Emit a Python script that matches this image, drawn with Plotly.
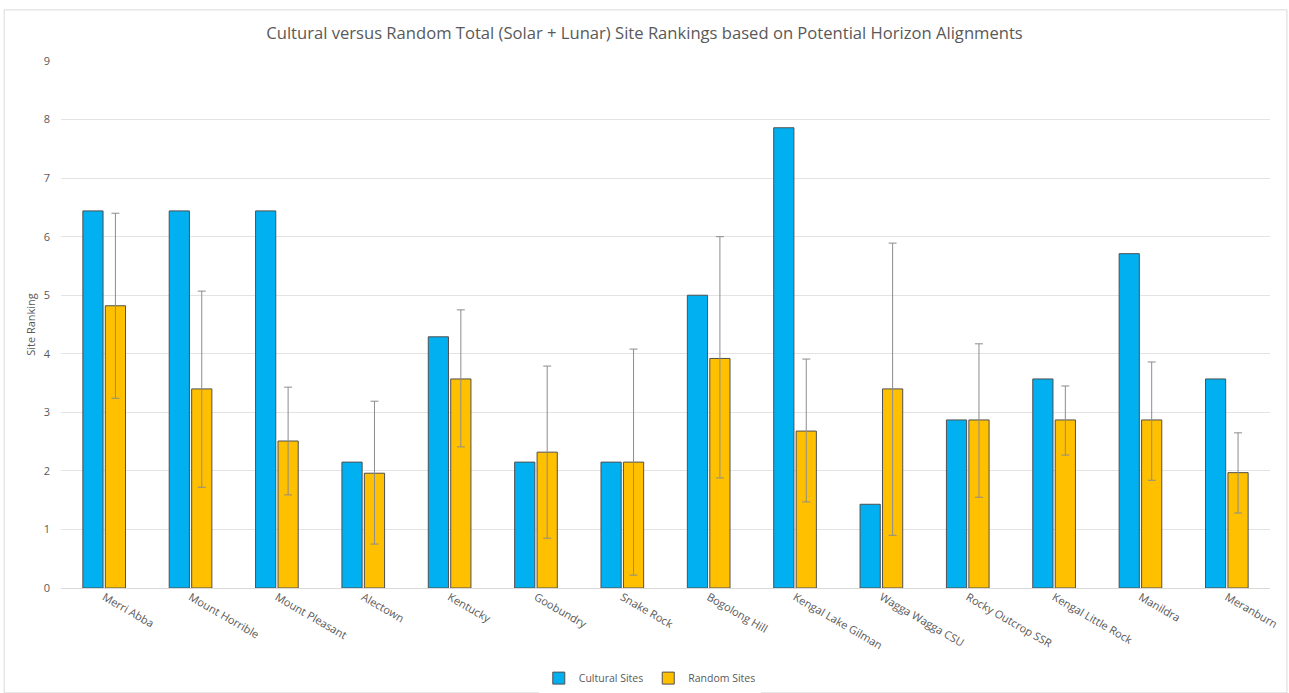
import plotly.graph_objects as go

sites = ["Merri Abba", "Mount Horrible", "Mount Pleasant", "Alectown", "Kentucky",
         "Goobundry", "Snake Rock", "Bogolong Hill", "Kengal Lake Gilman", "Wagga Wagga CSU",
         "Rocky Outcrop SSR", "Kengal Little Rock", "Manildra", "Meranburn"]
cultural = [6.44, 6.44, 6.44, 2.15, 4.29, 2.15, 2.15, 5.0, 7.86, 1.43, 2.87, 3.57, 5.71, 3.57]
random_mean = [4.82, 3.40, 2.51, 1.96, 3.57, 2.32, 2.15, 3.92, 2.68, 3.40, 2.87, 2.87, 2.87, 1.97]
random_upper = [6.40, 5.07, 3.43, 3.19, 4.75, 3.79, 4.08, 6.00, 3.91, 5.89, 4.17, 3.45, 3.86, 2.65]
random_lower = [3.24, 1.72, 1.59, 0.75, 2.41, 0.85, 0.22, 1.88, 1.47, 0.90, 1.55, 2.27, 1.84, 1.28]
y_ticks = [0, 1, 2, 3, 4, 5, 6, 7, 8, 9]

err_plus = [u - m for u, m in zip(random_upper, random_mean)]
err_minus = [m - l for m, l in zip(random_mean, random_lower)]

FONT = "Open Sans"
GREY = "#595959"

fig = go.Figure()
fig.add_trace(go.Bar(
    name="Cultural Sites", x=sites, y=cultural,
    marker=dict(color="#00B0F0", line=dict(color="#505050", width=1)),
))
fig.add_trace(go.Bar(
    name="Random Sites", x=sites, y=random_mean,
    marker=dict(color="#FFC000", line=dict(color="#505050", width=1)),
    error_y=dict(type="data", symmetric=False, array=err_plus, arrayminus=err_minus,
                 color="#8c8c8c", thickness=1, width=4),
))

fig.update_layout(
    width=1289, height=693,
    paper_bgcolor="white", plot_bgcolor="white",
    margin=dict(l=61, r=19, t=61, b=105, autoexpand=False),
    barmode="group", bargap=0.48, bargroupgap=0.1,
    font=dict(family=FONT, color=GREY, size=11),
    title=dict(text="Cultural versus Random Total (Solar + Lunar) Site Rankings based on Potential Horizon Alignments",
               x=0.5, xanchor="center", y=0.952, yanchor="middle",
               font=dict(family=FONT, size=16.6, color=GREY)),
    legend=dict(orientation="h", x=0.487, xanchor="center", y=-0.171, yanchor="middle",
                font=dict(family=FONT, size=10.5, color=GREY), itemwidth=30, tracegroupgap=0),
    showlegend=True,
)
fig.update_yaxes(range=[0, 9], tickvals=y_ticks, showgrid=True, gridcolor="#e3e3e3", gridwidth=1,
                 zeroline=True, zerolinecolor="#d9d9d9", zerolinewidth=1,
                 showline=False, ticks="", ticklabelstandoff=10, automargin=False,
                 tickfont=dict(family=FONT, size=11, color=GREY),
                 title=dict(text="Site Ranking", font=dict(family=FONT, size=11, color=GREY), standoff=5))
fig.update_xaxes(showgrid=False, showline=False, ticks="", tickangle=30, automargin=False,
                 tickfont=dict(family=FONT, size=11, color=GREY))

fig.add_shape(type="rect", xref="paper", yref="paper",
              x0=-0.047, x1=1.014, y0=-0.199, y1=1.097,
              line=dict(color="#d9d9d9", width=1), fillcolor="rgba(0,0,0,0)", layer="below")

fig.write_html("out.html")
